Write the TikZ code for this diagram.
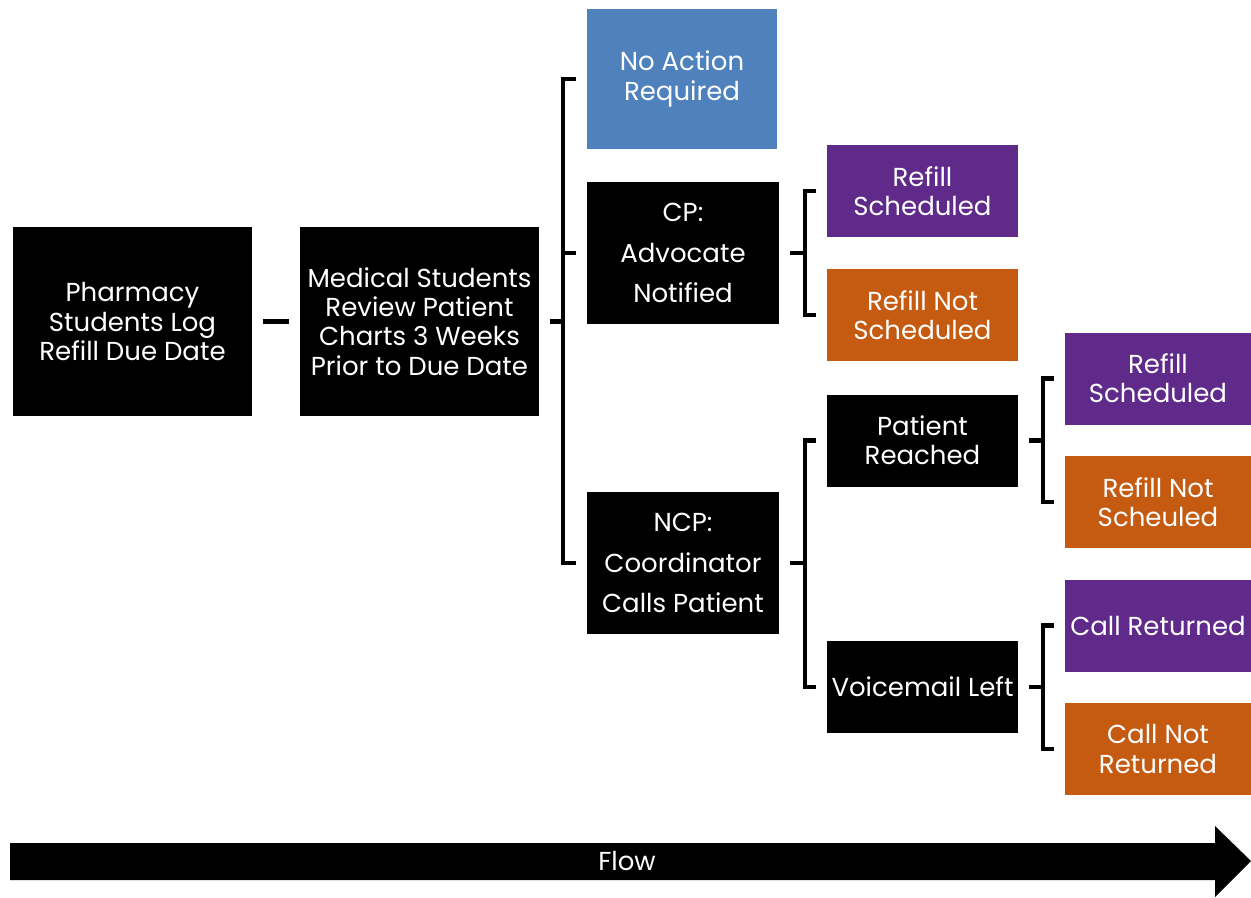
\documentclass[tikz,border=0pt]{standalone}
\usepackage{fontspec}
\setmainfont{Poppins}
\usetikzlibrary{calc}
\definecolor{ActClr}{HTML}{4F81BD}
\definecolor{YesClr}{HTML}{5F2A89}
\definecolor{NoClr}{HTML}{C55A11}

\tikzset{
  stepbox/.style={fill=black,text=white,align=center,inner sep=0pt,
    font=\fontsize{14.8}{16.6}\selectfont},
  bigbox/.style={stepbox,minimum width=4.78cm,minimum height=3.78cm},
  midbox/.style={stepbox,minimum width=3.84cm,minimum height=2.84cm},
  smallbox/.style={stepbox,minimum width=3.82cm,minimum height=1.84cm},
  endbox/.style={stepbox,minimum width=3.72cm,minimum height=1.84cm},
  link/.style={line width=2.4pt,line cap=rect},
}

\begin{document}
\begin{tikzpicture}[x=0.02cm,y=-0.02cm]
\useasboundingbox (0,0) rectangle (1251,897);

\node[bigbox] (log) at (132.5,321.5) {Pharmacy\\Students Log\\Refill Due Date};
\node[bigbox] (review) at (419.5,321.5) {Medical Students\\Review Patient\\Charts 3 Weeks\\Prior to Due Date};

\node[midbox,fill=ActClr,minimum width=3.8cm,minimum height=2.8cm] (none) at (682,79) {No Action\\Required};
\node[midbox,font=\fontsize{14.8}{23}\selectfont] (cp) at (683,253) {CP:\\Advocate\\Notified};
\node[midbox,font=\fontsize{14.8}{23}\selectfont] (ncp) at (683,563) {NCP:\\Coordinator\\Calls Patient};

\node[smallbox,fill=YesClr] (cpyes) at (922.5,191) {Refill\\Scheduled};
\node[smallbox,fill=NoClr] (cpno) at (922.5,315) {Refill Not\\Scheduled};
\node[smallbox] (reached) at (922.5,440.5) {Patient\\Reached};
\node[smallbox] (vm) at (922.5,687) {Voicemail Left};

\node[endbox,fill=YesClr] (ryes) at (1158,378.5) {Refill\\Scheduled};
\node[endbox,fill=NoClr] (rno) at (1158,502) {Refill Not\\Scheuled};
\node[endbox,fill=YesClr] (cyes) at (1158,625.5) {Call Returned};
\node[endbox,fill=NoClr] (cno) at (1158,749) {Call Not\\Returned};

\draw[link] ([xshift=7]log.east) -- ([xshift=-7]review.west);

\coordinate (b1) at ($(review.east)+(24,0)$);
\draw[link] ([xshift=7]review.east) -- (b1);
\draw[link] ([xshift=-7]none.west) -| (b1) |- ([xshift=-7]ncp.west);
\draw[link] (b1 |- cp.west) -- ([xshift=-7]cp.west);

\coordinate (b2) at ($(cp.east)+(26,0)$);
\draw[link] ([xshift=7]cp.east) -- (b2);
\draw[link] ([xshift=-7]cpyes.west) -| (b2) |- ([xshift=-7]cpno.west);

\coordinate (b3) at ($(ncp.east)+(26,0)$);
\draw[link] ([xshift=7]ncp.east) -- (b3);
\draw[link] ([xshift=-7]reached.west) -| (b3 |- reached.west) -- (b3 |- vm.west) -- ([xshift=-7]vm.west);

\coordinate (b4) at ($(reached.east)+(25,0)$);
\draw[link] ([xshift=7]reached.east) -- (b4);
\draw[link] ([xshift=-7]ryes.west) -| (b4) |- ([xshift=-7]rno.west);

\coordinate (b5) at ($(vm.east)+(25,0)$);
\draw[link] ([xshift=7]vm.east) -- (b5);
\draw[link] ([xshift=-7]cyes.west) -| (b5) |- ([xshift=-7]cno.west);

\coordinate (tail) at (10,861);
\coordinate (tip) at (1251,861);
\fill (10,843) -- (1215,843) -- (1215,826) -- (tip) -- (1215,897) -- (1215,880) -- (10,880) -- cycle;
\node[text=white,font=\fontsize{14.8}{16.6}\selectfont] (flow) at (627,861) {Flow};
\end{tikzpicture}
\end{document}
